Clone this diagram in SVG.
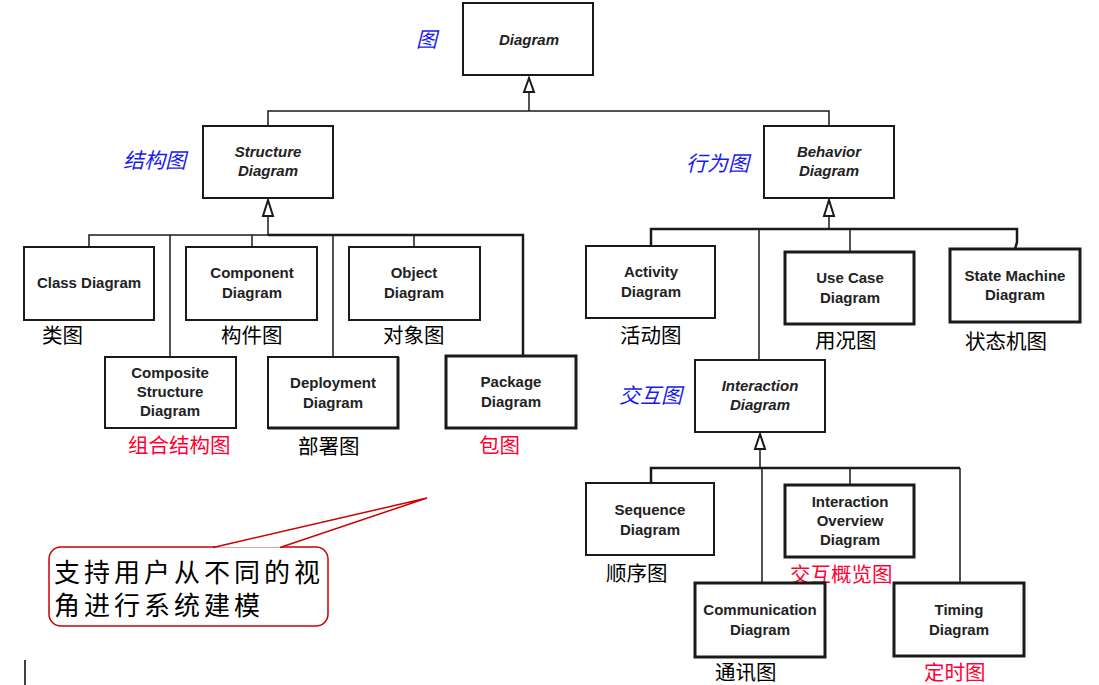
<svg xmlns="http://www.w3.org/2000/svg" width="1099" height="685" viewBox="0 0 1099 685">
<defs>
<style>
.box{fill:#fff;stroke:#1a1a1a;stroke-width:2}
.thick{stroke-width:3}
.bt{font-family:"Liberation Sans",Arial,sans-serif;font-size:15px;font-weight:bold;fill:#222;text-anchor:middle}
.it{font-style:italic}
.cn{font-family:"Noto Sans CJK SC",sans-serif;font-size:20.5px;fill:#000}
.red{fill:#ff0033}
.blue{font-family:"Noto Sans CJK SC",sans-serif;font-size:21px;fill:#1a1aee;font-style:italic}
.ln{fill:none;stroke:#1a1a1a;stroke-width:1.5}
.lt{fill:none;stroke:#1a1a1a;stroke-width:2.5}
.tri{fill:#fff;stroke:#1a1a1a;stroke-width:2}
.co{font-family:"Noto Sans CJK SC",sans-serif;font-size:26px;letter-spacing:4px;fill:#000}
</style>
</defs>
<rect width="1099" height="685" fill="#fff"/>
<g id="connectors">
<polyline class="ln" points="529,92 529,111"/>
<polyline class="ln" points="268,126 268,111 829,111 829,126"/>
<polygon class="tri" points="529,78 524,92 534,92"/>
<polyline class="ln" points="268,216 268,235"/>
<polygon class="tri" points="268,200 263,216 273,216"/>
<polyline class="ln" points="89,247 89,235 268,235"/>
<polyline class="lt" points="268,235 523,235 523,355"/>
<line class="ln" x1="170" y1="235" x2="170" y2="357"/>
<line class="ln" x1="252" y1="235" x2="252" y2="247"/>
<line class="ln" x1="333" y1="235" x2="333" y2="357"/>
<line class="ln" x1="414" y1="235" x2="414" y2="247"/>
<polyline class="ln" points="829,216 829,229"/>
<polygon class="tri" points="829,200 824,216 834,216"/>
<polyline class="lt" points="651,246 651,229 1017,229 1017,242 1015,249"/>
<line class="ln" x1="759" y1="229" x2="759" y2="360"/>
<line class="ln" x1="850" y1="229" x2="850" y2="252"/>
<polyline class="ln" points="760,449 760,468"/>
<polygon class="tri" points="760,434 755,449 765,449"/>
<polyline class="lt" points="651,483 651,468 960,468"/>
<line class="ln" x1="960" y1="468" x2="960" y2="583"/>
<line class="ln" x1="762" y1="468" x2="762" y2="583"/>
<line class="ln" x1="850" y1="468" x2="850" y2="485"/>
</g>
<g id="diagram"><rect class="box" x="463" y="3" width="130" height="72"/><text class="bt it" x="529" y="45">Diagram</text><text class="blue" x="416" y="47">图</text></g>
<g id="structure"><rect class="box" x="203" y="126" width="130" height="72"/><text class="bt it" x="268" y="157">Structure</text><text class="bt it" x="268" y="176">Diagram</text><text class="blue" x="123" y="168">结构图</text></g>
<g id="behavior"><rect class="box" x="764" y="126" width="130" height="72"/><text class="bt it" x="829" y="157">Behavior</text><text class="bt it" x="829" y="176">Diagram</text><text class="blue" x="686" y="171">行为图</text></g>
<g id="class"><rect class="box" x="24" y="247" width="130" height="73"/><text class="bt" x="89" y="288">Class Diagram</text><text class="cn" x="42" y="343">类图</text></g>
<g id="component"><rect class="box" x="186" y="247" width="131" height="73"/><text class="bt" x="252" y="278">Component</text><text class="bt" x="252" y="298">Diagram</text><text class="cn" x="221" y="343">构件图</text></g>
<g id="object"><rect class="box" x="349" y="247" width="131" height="73"/><text class="bt" x="414" y="278">Object</text><text class="bt" x="414" y="298">Diagram</text><text class="cn" x="383" y="343">对象图</text></g>
<g id="composite"><rect class="box" x="105" y="357" width="131" height="71"/><text class="bt" x="170" y="378">Composite</text><text class="bt" x="170" y="397">Structure</text><text class="bt" x="170" y="416">Diagram</text><text class="cn red" x="128" y="453">组合结构图</text></g>
<g id="deployment"><rect class="box" x="268" y="357" width="130" height="71"/><path d="M398,357 V428 H268" fill="none" stroke="#1a1a1a" stroke-width="3"/><text class="bt" x="333" y="388">Deployment</text><text class="bt" x="333" y="408">Diagram</text><text class="cn" x="298" y="454">部署图</text></g>
<g id="package"><rect class="box thick" x="446" y="356" width="130" height="72"/><text class="bt" x="511" y="387">Package</text><text class="bt" x="511" y="407">Diagram</text><text class="cn red" x="479" y="453">包图</text></g>
<g id="activity"><rect class="box" x="586" y="246" width="129" height="72"/><text class="bt" x="651" y="277">Activity</text><text class="bt" x="651" y="297">Diagram</text><text class="cn" x="620" y="343">活动图</text></g>
<g id="usecase"><rect class="box thick" x="785" y="252" width="129" height="72"/><text class="bt" x="850" y="283">Use Case</text><text class="bt" x="850" y="303">Diagram</text><text class="cn" x="815" y="348">用况图</text></g>
<g id="statemachine"><rect class="box thick" x="950" y="249" width="130" height="73"/><text class="bt" x="1015" y="281">State Machine</text><text class="bt" x="1015" y="300">Diagram</text><text class="cn" x="965" y="349">状态机图</text></g>
<g id="interaction"><rect class="box" x="695" y="360" width="130" height="72"/><text class="bt it" x="760" y="391">Interaction</text><text class="bt it" x="760" y="410">Diagram</text><text class="blue" x="619" y="403">交互图</text></g>
<g id="sequence"><rect class="box" x="586" y="483" width="128" height="72"/><text class="bt" x="650" y="515">Sequence</text><text class="bt" x="650" y="535">Diagram</text><text class="cn" x="606" y="581">顺序图</text></g>
<g id="overview"><rect class="box thick" x="785" y="485" width="129" height="72"/><text class="bt" x="850" y="507">Interaction</text><text class="bt" x="850" y="526">Overview</text><text class="bt" x="850" y="545">Diagram</text><text class="cn red" x="790" y="582">交互概览图</text></g>
<g id="communication"><rect class="box thick" x="695" y="583" width="130" height="74"/><text class="bt" x="760" y="615">Communication</text><text class="bt" x="760" y="635">Diagram</text><text class="cn" x="715" y="680">通讯图</text></g>
<g id="timing"><rect class="box thick" x="894" y="583" width="130" height="73"/><text class="bt" x="959" y="615">Timing</text><text class="bt" x="959" y="635">Diagram</text><text class="cn red" x="924" y="680">定时图</text></g>
<g id="callout">
<rect x="49" y="547" width="279" height="79" rx="12" ry="12" fill="#fff" stroke="#cc0000" stroke-width="1.5"/>
<path d="M213,547.5 L427,498 L280,547.5" fill="#fff" stroke="#cc0000" stroke-width="1.5"/>
<text class="co" x="54" y="582">支持用户从不同的视</text>
<text class="co" x="54" y="615">角进行系统建模</text>
</g>
<line x1="25" y1="660" x2="25" y2="685" stroke="#000" stroke-width="1.5"/>
</svg>
